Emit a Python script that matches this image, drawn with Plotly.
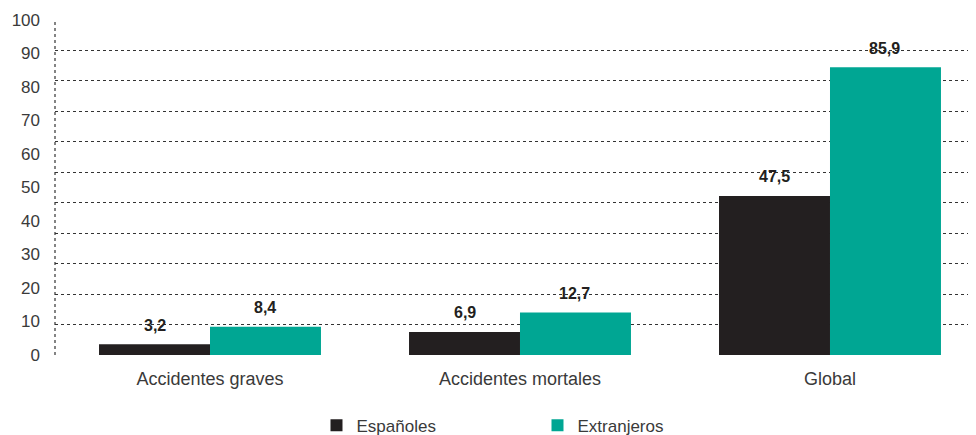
import plotly.graph_objects as go

categories = ["Accidentes graves", "Accidentes mortales", "Global"]
espanoles = [3.2, 6.9, 47.5]
extranjeros = [8.4, 12.7, 85.9]
series_names = ["Españoles", "Extranjeros"]
y_ticks = [0, 10, 20, 30, 40, 50, 60, 70, 80, 90, 100]

DARK = "#231f20"
TEAL = "#00a693"
FONT = "Liberation Sans"
TXT = "#3a3a3a"

fig = go.Figure()
fig.add_trace(go.Bar(x=categories, y=espanoles, name=series_names[0],
                     marker=dict(color=DARK, line=dict(width=0))))
fig.add_trace(go.Bar(x=categories, y=extranjeros, name=series_names[1],
                     marker=dict(color=TEAL, line=dict(width=0))))

def fmt(v):
    return f"{v:.1f}".replace(".", ",")

for vals, xs in ((espanoles, -55), (extranjeros, 55)):
    for c, v in zip(categories, vals):
        fig.add_annotation(x=c, y=v, xref="x", yref="y", text=f"<b>{fmt(v)}</b>",
                           showarrow=False, xshift=xs, yshift=19,
                           font=dict(family=FONT, size=16, color=DARK))

# dotted left axis line
fig.add_shape(type="line", xref="paper", yref="paper", x0=0, x1=0, y0=0, y1=1,
              line=dict(color="#333333", width=1.2, dash="dot"))

# page body has an 8px default margin, so the figure is sized to fit the window
fig.update_layout(
    width=968, height=427,
    margin=dict(l=47, r=0, t=12, b=80, autoexpand=False),
    paper_bgcolor="white", plot_bgcolor="white",
    barmode="group", bargap=0.284, bargroupgap=0,
    font=dict(family=FONT, color=TXT),
    showlegend=True,
    legend=dict(orientation="h", x=0.547, xanchor="center", xref="container",
                y=0.022, yanchor="middle", yref="container",
                font=dict(family=FONT, size=17, color=TXT),
                entrywidth=176, entrywidthmode="pixels", traceorder="normal"),
    xaxis=dict(range=[-0.5, 2.471], showgrid=False, zeroline=False, showline=False,
               ticks="", tickfont=dict(family=FONT, size=18, color=TXT),
               ticklabelstandoff=11, automargin=False),
    yaxis=dict(range=[0, 100], tickvals=y_ticks, ticktext=[str(t) for t in y_ticks],
               showgrid=False, zeroline=False, showline=False, ticks="",
               tickfont=dict(family=FONT, size=17, color=TXT),
               ticklabelstandoff=14, automargin=False),
    yaxis2=dict(overlaying="y", range=[0, 11], dtick=1, tick0=0, showticklabels=False,
                showgrid=True, gridcolor="#333333", gridwidth=1.2, griddash="dot",
                zeroline=False, showline=False, ticks="", automargin=False),
)
# invisible helper trace to activate yaxis2 gridlines
fig.add_trace(go.Scatter(x=[categories[0]], y=[0], yaxis="y2", mode="markers",
                         marker=dict(opacity=0), showlegend=False, hoverinfo="skip"))

fig.write_html("out.html")
